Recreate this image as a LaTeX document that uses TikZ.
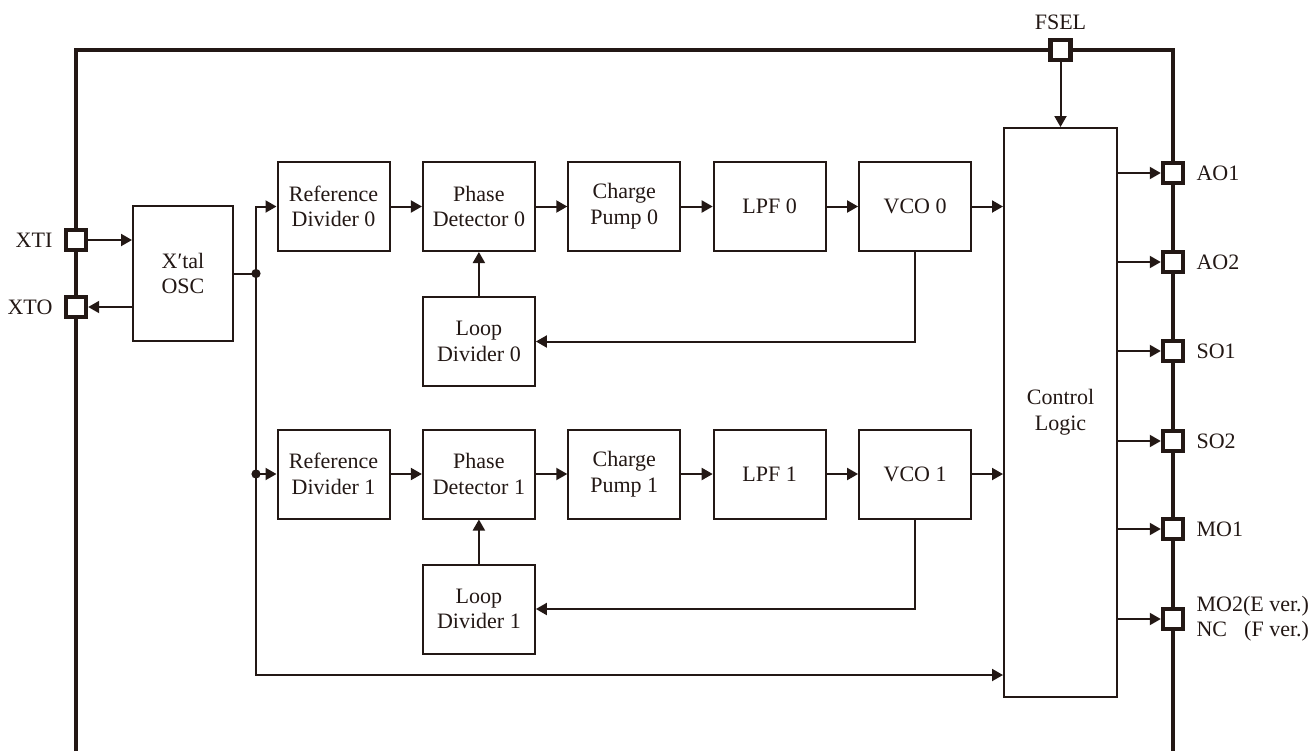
\documentclass[tikz,border=0pt]{standalone}
\usepackage{fontspec}
\setmainfont{Liberation Serif}
\usetikzlibrary{arrows.meta, positioning}
\definecolor{ink}{HTML}{231815}
\tikzstyle{block}=[draw=ink,fill=white,rectangle,line width=1pt,minimum width=56pt,minimum height=44.5pt,align=center,inner sep=1pt]
\tikzstyle{padbox}=[draw=ink,fill=white,rectangle,line width=2.2pt,minimum size=10pt,inner sep=0pt]
\tikzstyle{every node}=[font=\fontsize{11}{12.8}\selectfont,text=ink]
\tikzstyle{wire}=[draw=ink,line width=1pt]
\tikzstyle{pinlabel}=[inner sep=1pt]

\begin{document}
\begin{tikzpicture}[x=0.5pt,y=-0.5pt,>={Triangle[length=5.5pt,width=6pt]},node distance=22pt and 15.7pt]
    \useasboundingbox (0,0) rectangle (1314,751);
    % chip outline
    \draw[ink,line width=2.2pt] (76,751) |- (1173,50) -- (1173,751);
    % pads
    \node[padbox] (xti) at (76,240) {};
    \node[padbox] (xto) at (76,307) {};
    \node[padbox] (fsel) at (1060.5,50) {};
    \foreach \name/\y in {ao1/173, ao2/262, so1/351, so2/441, mo1/529, mo2/619}
        \node[padbox] (\name) at (1173,\y) {};
    \node[pinlabel, left=4.5pt of xti] {XTI};
    \node[pinlabel, left=4.5pt of xto] {XTO};
    \node[pinlabel, above=3pt of fsel] {FSEL};
    \node[pinlabel, right=4.5pt of ao1] {AO1};
    \node[pinlabel, right=4.5pt of ao2] {AO2};
    \node[pinlabel, right=4.5pt of so1] {SO1};
    \node[pinlabel, right=4.5pt of so2] {SO2};
    \node[pinlabel, right=4.5pt of mo1] {MO1};
    \node[pinlabel, right=4.5pt of mo2] {\begin{tabular}{@{}l@{}r@{}}MO2&(E ver.)\\NC&(F ver.)\end{tabular}};
    % oscillator
    \node[block, minimum width=50pt, minimum height=67.5pt] (osc) at (183,273.5) {X\char"2032 tal\\OSC};
    % PLL 0
    \node[block] (ref0) at (333.5,206.5) {Reference\\Divider 0};
    \node[block, right=of ref0] (pd0) {Phase\\Detector 0};
    \node[block, right=of pd0] (cp0) {Charge\\Pump 0};
    \node[block, right=of cp0] (lpf0) {LPF 0};
    \node[block, right=of lpf0] (vco0) {VCO 0};
    \node[block, below=of pd0] (ld0) {Loop\\Divider 0};
    % PLL 1
    \node[block] (ref1) at (333.5,474) {Reference\\Divider 1};
    \node[block, right=of ref1] (pd1) {Phase\\Detector 1};
    \node[block, right=of pd1] (cp1) {Charge\\Pump 1};
    \node[block, right=of cp1] (lpf1) {LPF 1};
    \node[block, right=of lpf1] (vco1) {VCO 1};
    \node[block, below=of pd1] (ld1) {Loop\\Divider 1};
    % control
    \node[block, minimum width=56.5pt, minimum height=284.5pt] (ctrl) at (1060.5,412.5) {Control\\Logic};
    \coordinate (split) at (256,273.5);
    \coordinate (tap1) at (256,474);
    \coordinate (bus) at (256,675);
    % wiring
    \draw[wire,->] (xti) -- (osc.west |- xti);
    \draw[wire,->] (osc.west |- xto) -- (xto);
    \draw[wire] (osc.east |- split) -- (split);
    \draw[wire,->] (split) |- (ref0);
    \draw[wire,->] (split) -- (bus) -- (bus -| ctrl.west);
    \draw[wire,->] (tap1) -- (ref1);
    \fill[ink] (split) circle (2.3pt);
    \fill[ink] (tap1) circle (2.3pt);
    \draw[wire,->] (ref0) -- (pd0);
    \draw[wire,->] (pd0) -- (cp0);
    \draw[wire,->] (cp0) -- (lpf0);
    \draw[wire,->] (lpf0) -- (vco0);
    \draw[wire,->] (vco0) -- (vco0 -| ctrl.west);
    \draw[wire,->] (ld0) -- (pd0);
    \draw[wire,->] (vco0) |- (ld0);
    \draw[wire,->] (ref1) -- (pd1);
    \draw[wire,->] (pd1) -- (cp1);
    \draw[wire,->] (cp1) -- (lpf1);
    \draw[wire,->] (lpf1) -- (vco1);
    \draw[wire,->] (vco1) -- (vco1 -| ctrl.west);
    \draw[wire,->] (ld1) -- (pd1);
    \draw[wire,->] (vco1) |- (ld1);
    \draw[wire,->] (fsel) -- (fsel |- ctrl.north);
    \foreach \name in {ao1, ao2, so1, so2, mo1, mo2}
        \draw[wire,->] (ctrl.east |- \name) -- (\name);
\end{tikzpicture}
\end{document}
